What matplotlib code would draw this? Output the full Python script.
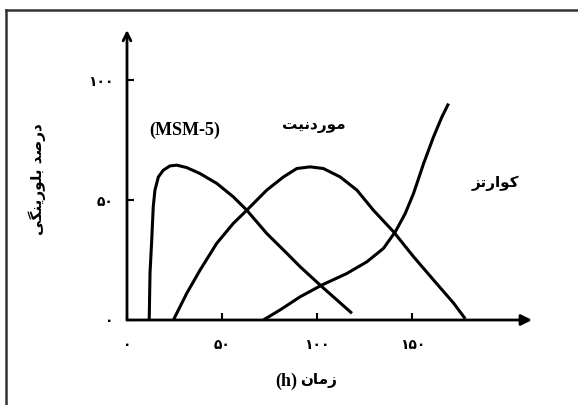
import matplotlib
matplotlib.use("Agg")
import matplotlib.pyplot as plt
from matplotlib.lines import Line2D

# ---------------------------------------------------------
# Data (time in h, crystallinity in %)
# ---------------------------------------------------------
msm_x = [11.5, 11.7, 12.1, 13.0, 13.8, 14.7, 16.5, 19.1, 22.6, 26.2, 31.4, 38.4,
         47.2, 55.9, 63.0, 73.5, 84.1, 91.1, 102.5, 118.3]
msm_y = [0.0, 0.8, 19.6, 33.3, 47.2, 54.2, 59.7, 62.5, 64.3, 64.6, 63.6, 61.1,
         57.0, 51.4, 45.8, 36.1, 27.8, 22.2, 13.9, 2.8]

mord_x = [24.4, 31.4, 38.4, 47.2, 55.9, 63.0, 73.5, 82.3, 89.3, 96.3, 103.3,
          112.1, 120.9, 129.6, 140.2, 150.7, 161.2, 171.8, 177.9]
mord_y = [0.0, 11.1, 20.8, 32.0, 40.3, 45.8, 54.2, 59.7, 63.2, 63.9, 63.2,
          59.7, 54.2, 45.8, 36.8, 26.4, 16.7, 7.0, 0.5]

quartz_x = [71.7, 80.5, 91.1, 102.5, 115.6, 126.2, 134.9, 141.1, 146.3, 150.7,
            156.0, 161.2, 165.6, 169.1]
quartz_y = [0.0, 4.2, 9.7, 14.6, 19.4, 24.3, 29.9, 36.8, 44.4, 52.8,
            65.3, 76.4, 84.7, 90.3]

xtick_vals = [0, 50, 100, 150]
xtick_labels = ["۰", "۵۰", "۱۰۰", "۱۵۰"]
ytick_vals = [0, 50, 100]
ytick_labels = ["۰", "۵۰", "۱۰۰"]

# ---------------------------------------------------------
# Persian shaping by hand (matplotlib has no bidi/shaping)
# forms: isolated, final, initial, medial
# ---------------------------------------------------------
FORMS = {
    "ا": ("\uFE8D", "\uFE8E", None, None),
    "ب": ("\uFE8F", "\uFE90", "\uFE91", "\uFE92"),
    "ت": ("\uFE95", "\uFE96", "\uFE97", "\uFE98"),
    "د": ("\uFEA9", "\uFEAA", None, None),
    "ر": ("\uFEAD", "\uFEAE", None, None),
    "ز": ("\uFEAF", "\uFEB0", None, None),
    "ص": ("\uFEB9", "\uFEBA", "\uFEBB", "\uFEBC"),
    "ل": ("\uFEDD", "\uFEDE", "\uFEDF", "\uFEE0"),
    "م": ("\uFEE1", "\uFEE2", "\uFEE3", "\uFEE4"),
    "ن": ("\uFEE5", "\uFEE6", "\uFEE7", "\uFEE8"),
    "و": ("\uFEED", "\uFEEE", None, None),
    "ی": ("\uFBFC", "\uFBFD", "\uFBFE", "\uFBFF"),
    "ک": ("\uFB8E", "\uFB8F", "\uFB90", "\uFB91"),
    "گ": ("\uFB92", "\uFB93", "\uFB94", "\uFB95"),
}


def fa(txt):
    out = []
    for i, c in enumerate(txt):
        if c not in FORMS:
            out.append(c)
            continue
        prev = txt[i - 1] if i > 0 else None
        nxt = txt[i + 1] if i + 1 < len(txt) else None
        j_prev = prev in FORMS and FORMS[prev][2] is not None
        j_next = nxt in FORMS and FORMS[c][2] is not None
        iso, fin, ini, med = FORMS[c]
        if j_prev and j_next:
            out.append(med)
        elif j_prev:
            out.append(fin)
        elif j_next:
            out.append(ini)
        else:
            out.append(iso)
    return "".join(reversed(out))


FA_FONT = dict(family="DejaVu Sans", fontweight="bold")
EN_FONT = dict(family="Liberation Serif", fontweight="bold")

# ---------------------------------------------------------
# Figure
# ---------------------------------------------------------
W, H = 578, 405
fig = plt.figure(figsize=(W / 100, H / 100), dpi=100)
ax = fig.add_axes([127 / W, 1 - 320 / H, 405 / W, 290 / H])
ax.set_xlim(0, 213)
ax.set_ylim(0, 121)
for s in ax.spines.values():
    s.set_visible(False)

LW = 2.2
ax.plot(msm_x, msm_y, color="black", lw=LW, solid_capstyle="butt")
ax.plot(mord_x, mord_y, color="black", lw=LW, solid_capstyle="butt")
ax.plot(quartz_x, quartz_y, color="black", lw=LW, solid_capstyle="butt")

# axis arrows
ax.annotate("", xy=(1.0, 0), xytext=(0, 0), xycoords="axes fraction",
            arrowprops=dict(arrowstyle="-|>", lw=2.0, color="black",
                            mutation_scale=16, shrinkA=0, shrinkB=0))
ax.annotate("", xy=(0, 1.0), xytext=(0, 0), xycoords="axes fraction",
            arrowprops=dict(arrowstyle="->", lw=2.0, color="black",
                            mutation_scale=14, shrinkA=0, shrinkB=0))

ax.set_xticks(xtick_vals)
ax.set_xticklabels(xtick_labels, fontsize=10, **FA_FONT)
ax.set_yticks(ytick_vals)
ax.set_yticklabels(ytick_labels, fontsize=10, **FA_FONT)
ax.tick_params(axis="x", direction="in", length=5, width=1.5, pad=13)
ax.tick_params(axis="y", direction="in", length=5, width=1.5, pad=10)

# curve labels
ax.text(30.5, 79, "(MSM-5)", ha="center", va="center", fontsize=13, **EN_FONT)
ax.text(98, 81, fa("موردنیت"), ha="center", va="center", fontsize=11, **FA_FONT)
ax.text(194, 57, fa("کوارتز"), ha="center", va="center", fontsize=11, **FA_FONT)

# axis titles
fig.text(300 / W, 1 - 381 / H, fa("زمان"), ha="left", va="center",
         fontsize=11, **FA_FONT)
fig.text(297 / W, 1 - 381 / H, "(h)", ha="right", va="center",
         fontsize=13, **EN_FONT)
fig.text(37 / W, 1 - 179 / H, fa("درصد بلورینگی"), ha="center", va="center",
         rotation=90, fontsize=11, **FA_FONT)

# frame (only top and left edges fall inside the picture)
fig.add_artist(Line2D([6 / W, 1], [1 - 10 / H, 1 - 10 / H], color="#333333", lw=1.8))
fig.add_artist(Line2D([6 / W, 6 / W], [0, 1 - 10 / H], color="#333333", lw=1.8))

fig.savefig("out.png", dpi=100)
